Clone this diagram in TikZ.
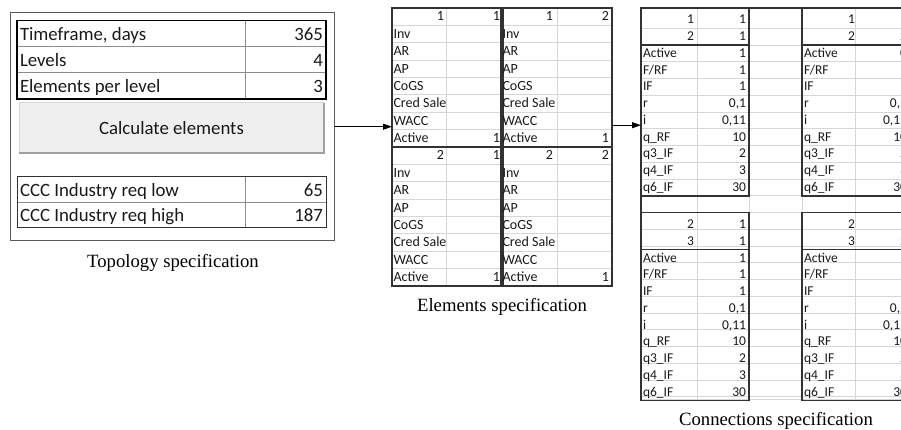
\documentclass[tikz,border=0pt]{standalone}
\usepackage{fontspec}
\setmainfont{Liberation Serif}
\newfontfamily\cellfont{Carlito}
\usepackage{tikz}
\usetikzlibrary{arrows.meta, positioning, calc}

\definecolor{gridgray}{RGB}{214,214,214}
\definecolor{rowgray}{RGB}{140,140,140}
\definecolor{blockgray}{RGB}{50,50,50}
\definecolor{framegray}{RGB}{90,90,90}
\definecolor{btnfill}{RGB}{239,239,239}
\definecolor{btnedge}{RGB}{215,215,215}
\definecolor{btnshadow}{RGB}{160,160,160}

\begin{document}
\begin{tikzpicture}[x=1pt, y=-1pt,
  every node/.style={inner sep=0pt, outer sep=0pt},
  cell/.style={font=\cellfont\fontsize{13.5}{13.5}\selectfont, text=black!90},
  lbl/.style={cell, anchor=base west},
  val/.style={cell, anchor=base east},
  ecell/.style={cell, font=\cellfont\fontsize{14}{14}\selectfont},
  elbl/.style={ecell, anchor=base west},
  eval/.style={ecell, anchor=base east},
  bigcell/.style={font=\cellfont\fontsize{18.8}{18.8}\selectfont, text=black!90},
  biglbl/.style={bigcell, anchor=base west},
  bigval/.style={bigcell, anchor=base east},
  caption/.style={font=\fontsize{18.7}{18.7}\selectfont, anchor=base},
  gridline/.style={draw=gridgray, line width=0.8pt},
  rowline/.style={draw=rowgray, line width=0.8pt},
  blockline/.style={draw=blockgray, line width=1.5pt},
  flow/.style={-{Triangle[length=9pt, width=6pt]}, line width=1pt}
]
  \useasboundingbox (0,0) rectangle (901,430);
  \clip (0,0) rectangle (901,430);

  % Topology specification
  \node[draw=framegray, line width=1.2pt, minimum width=324pt, minimum height=228pt] (topo) at (172.8,126.7) {};
  \draw[rowline] (17,46.5) -- (326,46.5) (17,72.7) -- (326,72.7) (245,20.5) -- (245,99);
  \draw[line width=1.5pt] (17,20.5) rectangle (326,99);
  \node[biglbl] (tf) at (20,40.5) {Timeframe, days};
  \node[bigval] (tfv) at (323,40.5) {365};
  \node[biglbl] (lv) at (20,66.5) {Levels};
  \node[bigval] (lvv) at (323,66.5) {4};
  \node[biglbl] (epl) at (20,93) {Elements per level};
  \node[bigval] (eplv) at (323,93) {3};

  \node[bigcell, fill=btnfill, minimum width=305pt, minimum height=50pt] (calc) at (171.5,128) {Calculate elements};
  \draw[btnedge, line width=1pt] (calc.south west) -- (calc.north west) -- (calc.north east);
  \draw[btnshadow, line width=1.5pt] (calc.north east) -- (calc.south east) -- (calc.south west);

  \draw[rowline] (17,202.5) -- (326,202.5) (245,177) -- (245,228);
  \draw[draw=blockgray, line width=1pt] (17,177) rectangle (326,228);
  \node[biglbl] (low) at (20,196.5) {CCC Industry req low};
  \node[bigval] (lowv) at (323,196.5) {65};
  \node[biglbl] (high) at (20,222) {CCC Industry req high};
  \node[bigval] (highv) at (323,222) {187};

  \node[caption] (topocap) at (173,267) {Topology specification};

  % Elements specification
  \node[minimum width=220pt, minimum height=278pt] (elem) at (502,147) {};
  \foreach \k in {1,...,15}
    \draw[gridline] (392,8+\k*17.375) -- (612,8+\k*17.375);
  \draw[gridline] (446,8) -- (446,286) (557,8) -- (557,286);
  \foreach \bx/\by/\ha/\hb [count=\b] in {392/8/1/1, 501/8/1/2, 392/147/2/1, 501/147/2/2} {
    \draw[blockline] (\bx,\by) rectangle (\bx+111,\by+139);
    \node[eval] (eh\b a) at (\bx+52,\by+13) {\ha};
    \node[eval] (eh\b b) at (\bx+108,\by+13) {\hb};
    \begin{scope}
      \clip (\bx,\by) rectangle (\bx+54,\by+139);
      \foreach \lab [count=\i] in {Inv, AR, AP, CoGS, Cred Sales, WACC, Active}
        \node[elbl] (el\b-\i) at (\bx+1.5,\by+13+\i*17.375) {\lab};
    \end{scope}
    \node[eval] (ea\b) at (\bx+108,\by+134.6) {1};
  }
  \node[caption] (elemcap) at (502,311.5) {Elements specification};

  % Connections specification
  \node[minimum width=266pt, minimum height=389pt] (conn) at (774,202.5) {};
  \foreach \k in {1,...,23}
    \draw[gridline] (641,11.55+\k*16.75) -- (907,11.55+\k*16.75);
  \foreach \cx in {697,749,802,855}
    \draw[gridline] (\cx,8) -- (\cx,399);
  \draw[gridline] (641,399) -- (907,399);
  \draw[blockline] (641,399) -- (641,8) -- (907,8);
  \foreach \bx/\by/\ha/\hb/\hc/\hd/\act [count=\b] in
    {641/8/1/1/2/1/1, 802/8/1/1/2/2/0, 641/212.55/2/1/3/1/1, 802/212.55/2/1/3/2/1} {
    \draw[blockline] (\bx,\by) rectangle (\bx+108,\by+187.8);
    \draw[blockline] (\bx,\by+37.05) -- (\bx+108,\by+37.05);
    \node[val] (ch\b a) at (\bx+53,\by+16) {\ha};
    \node[val] (ch\b b) at (\bx+105,\by+16) {\hb};
    \node[val] (ch\b c) at (\bx+53,\by+32.7) {\hc};
    \node[val] (ch\b d) at (\bx+105,\by+32.7) {\hd};
    \foreach \lab/\num [count=\i] in {Active/\act, F{/}RF/1, IF/1, r/{0,1}, i/{0,11},
        q\_RF/10, q3\_IF/2, q4\_IF/3, q6\_IF/30} {
      \node[lbl] (cl\b-\i) at (\bx+2,\by+32.7+\i*16.75) {\lab};
      \node[val] (cv\b-\i) at (\bx+105,\by+32.7+\i*16.75) {\num};
    }
  }
  \node[caption] (conncap) at (776,425) {Connections specification};

  % flow between the three steps
  \draw[flow] (topo.east) -- (topo.east -| elem.west);
  \draw[flow] ([yshift=1.5pt]elem.east |- topo.east) -- ([yshift=1.5pt]topo.east -| conn.west);
\end{tikzpicture}
\end{document}
